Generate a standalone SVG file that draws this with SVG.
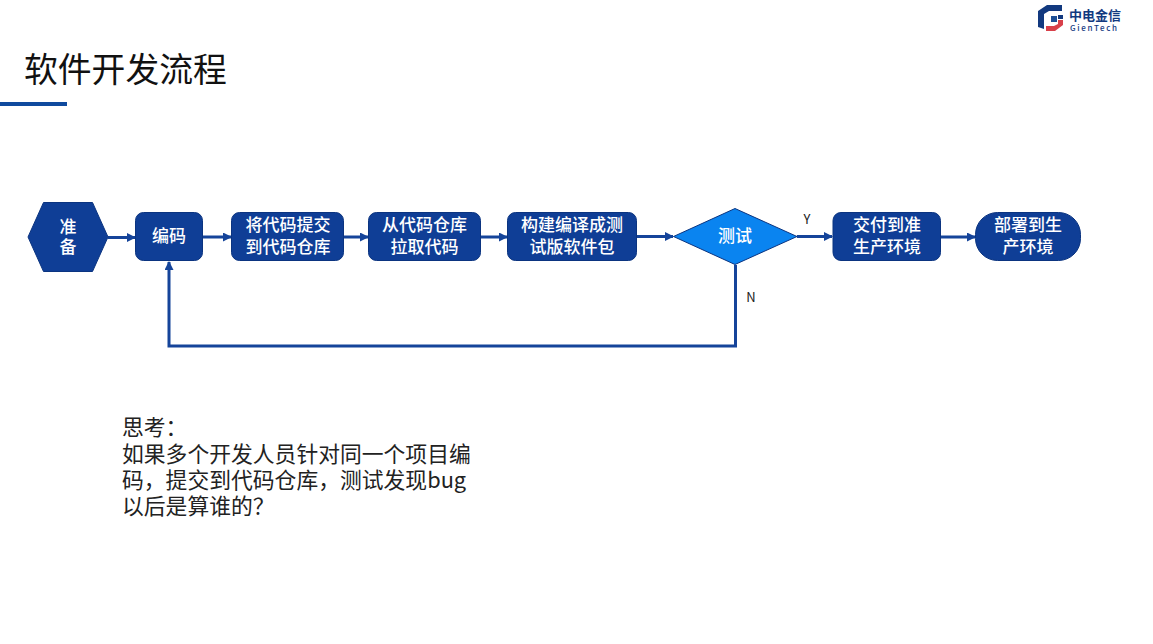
<svg xmlns="http://www.w3.org/2000/svg" width="1153" height="644" viewBox="0 0 1153 644">
<style>
text{font-family:"Noto Sans CJK SC","Noto Sans",sans-serif}
.n{fill:#0f3e96;stroke:#0b3480;stroke-width:1}
.l{font-size:17px;fill:#fff;text-anchor:middle;font-weight:500}
.c{fill:none;stroke:#15449a;stroke-width:3}
.t{font-size:21.800px;fill:#222}
.e{font-size:13px;fill:#222;text-anchor:middle}
</style>
<defs><marker id="a" markerUnits="userSpaceOnUse" markerWidth="9" markerHeight="9" refX="8" refY="4.5" orient="auto"><path d="M0 0L9 4.5L0 9z" fill="#15449a"/></marker></defs>
<rect width="1153" height="644" fill="#fff"/>
<text x="24" y="82" font-size="33.800" fill="#111">软件开发流程</text>
<rect x="0" y="102" width="67" height="4" fill="#0f4a9e"/>
<g id="logo">
<path d="M1047 5H1062V11H1049L1044 14V29L1038 27V11z" fill="#12397f"/>
<path d="M1051 16H1057V22H1051z" fill="#1d4f96"/>
<path d="M1058 15H1063V19H1058z" fill="#12397f"/>
<path d="M1058 20H1063V25L1055 31H1046V26H1054L1058 24z" fill="#d8404a"/>
<text x="1069" y="20" font-size="13" font-weight="700" fill="#12397f">中电金信</text>
<text x="1070" y="30.500" font-size="8" font-weight="500" letter-spacing="1.700" fill="#12397f">GienTech</text>
</g>
<g id="connectors">
<path class="c" marker-end="url(#a)" d="M108 237.500H135"/>
<path class="c" marker-end="url(#a)" d="M203 237H231"/>
<path class="c" marker-end="url(#a)" d="M344 237H368"/>
<path class="c" marker-end="url(#a)" d="M481 237H507"/>
<path class="c" marker-end="url(#a)" d="M636 236.500H673"/>
<path class="c" marker-end="url(#a)" d="M797 236.500H832"/>
<path class="c" marker-end="url(#a)" d="M941 237H975"/>
<path class="c" marker-end="url(#a)" d="M735.500 265V346H169V262"/>
</g>
<g id="prep"><path class="n" d="M28 237L43.500 202.500H92.500L108 237L92.500 271.500H43.500z"/><text class="l" x="68" y="233">准</text><text class="l" x="68" y="253">备</text></g>
<g id="code"><rect class="n" x="135.500" y="212.500" width="67" height="48" rx="8"/><text class="l" x="169" y="242">编码</text></g>
<g id="commit"><rect class="n" x="231.500" y="212.500" width="112" height="48" rx="8"/><text class="l" x="288" y="231">将代码提交</text><text class="l" x="288" y="253">到代码仓库</text></g>
<g id="pull"><rect class="n" x="368.500" y="212.500" width="112" height="48" rx="8"/><text class="l" x="424.500" y="231">从代码仓库</text><text class="l" x="424.500" y="253">拉取代码</text></g>
<g id="build"><rect class="n" x="507.500" y="212.500" width="129" height="48" rx="8"/><text class="l" x="572" y="231">构建编译成测</text><text class="l" x="572" y="253">试版软件包</text></g>
<g id="test"><path d="M673.500 236.500L735 208.500L797 236.500L735 264.500z" fill="#0a84f0" stroke="#0b3480"/><text class="l" x="735" y="242">测试</text></g>
<g id="deliver"><rect class="n" x="833" y="212.500" width="107.500" height="48" rx="8"/><text class="l" x="887" y="231">交付到准</text><text class="l" x="887" y="253">生产环境</text></g>
<g id="deploy"><rect class="n" x="975.500" y="212.500" width="105" height="48" rx="22"/><text class="l" x="1028" y="231">部署到生</text><text class="l" x="1028" y="253">产环境</text></g>
<text class="e" x="807" y="224">Y</text>
<text class="e" x="751" y="302">N</text>
<text class="t" x="122" y="435">思考：</text>
<text class="t" x="122" y="462">如果多个开发人员针对同一个项目编</text>
<text class="t" x="122" y="488">码，提交到代码仓库，测试发现bug</text>
<text class="t" x="122" y="514">以后是算谁的？</text>
</svg>
